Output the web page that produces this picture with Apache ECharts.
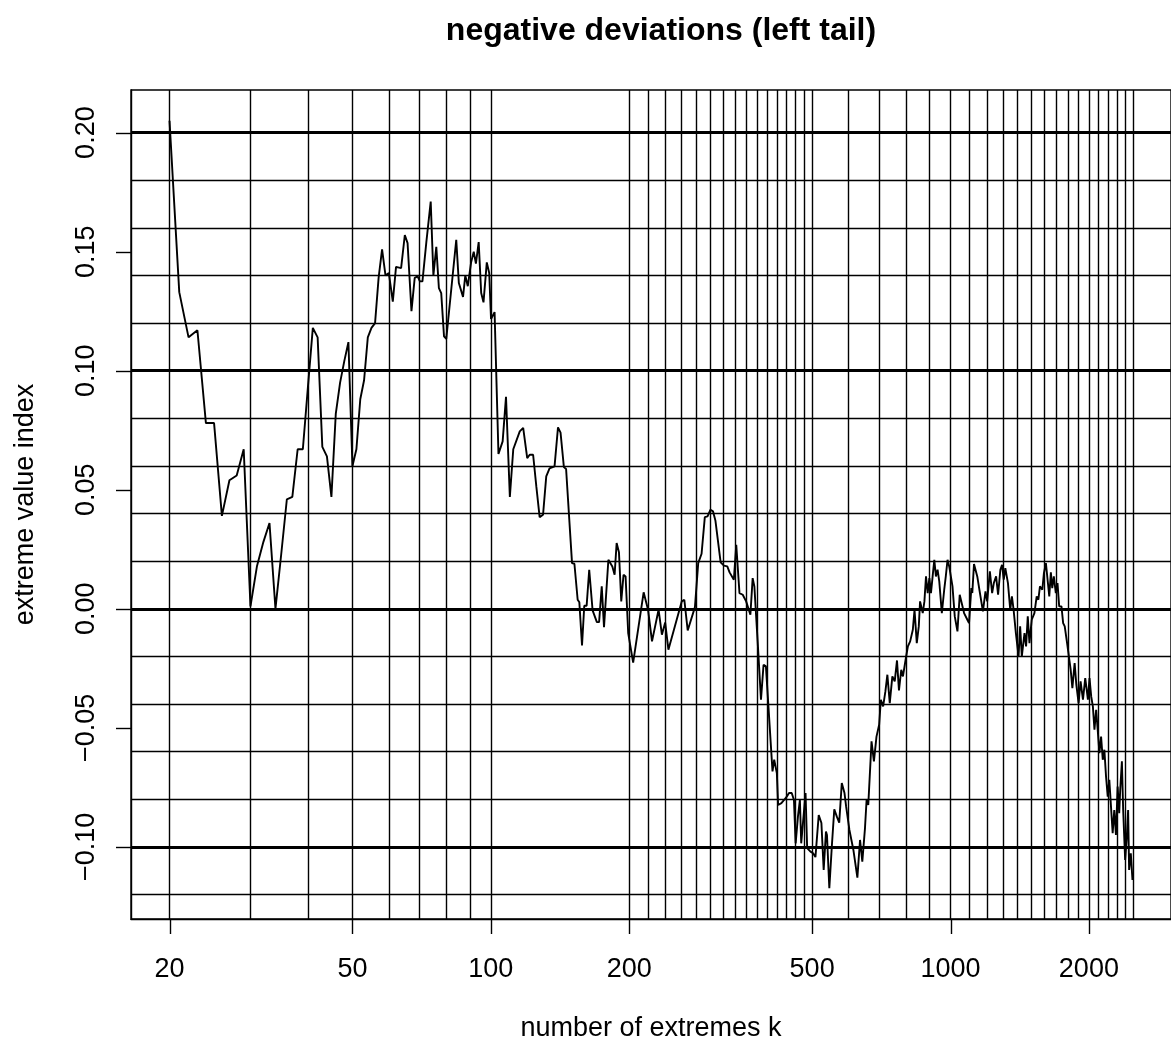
<!DOCTYPE html>
<html>
<head>
<meta charset="utf-8">
<title>negative deviations (left tail)</title>
<script src="https://cdn.jsdelivr.net/npm/echarts@6/dist/echarts.min.js"></script>
<style>
  html, body { margin: 0; padding: 0; background: #fff; }
  #chart { width: 1171px; height: 1048px; }
</style>
</head>
<body>
<div id="chart"></div>
<script>
// number of extremes k used for each estimate
const extremesK = [
  20,21,22,23,24,25,26,27,28,29,30,31,32,33,34,35,36,37,38,39,40,
  41,42,43,44,45,46,47,48,49,50,51,52,53,54,55,56,57,58,59,60,
  61.2,62.2,63.8,65.0,65.9,67.2,68.3,69.3,70.1,71.0,72.4,74.0,75.0,76.1,77.1,78.0,79.1,80.0,
  84.1,85.2,87.0,88.0,89.1,90.6,91.8,92.8,94.1,95.3,96.4,98.0,99.2,100.1,101.9,
  103.9,106.1,107.9,110.0,111.9,115.6,117.6,120.0,121.5,123.6,125.6,127.7,129.9,132.0,134.2,
  137.6,140.0,141.8,144.2,145.8,150.2,152.0,154.5,155.8,157.9,159.7,161.6,163.7,166.5,170.1,
  172.0,174.3,176.3,180.2,183.8,185.9,187.8,190.0,192.2,194.4,196.4,199.0,204.0,215.0,219.8,
  224.2,231.7,235.6,239.5,243.4,251.7,260.2,263.6,268.1,278.0,282.6,287.4,292.1,296.1,300.5,
  304.4,308.0,311.1,316.2,321.5,326.9,330.7,337.8,341.9,347.5,353.2,359.3,367.0,371.2,374.4,
  380.6,387.0,392.0,396.7,410.0,413.5,419.0,421.7,428.7,434.5,440.3,445.4,451.4,456.5,460.4,
  465.7,470.3,473.4,478.1,483.8,487.7,496.0,502.4,508.4,516.8,523.8,529.8,535.9,538.6,545.0,
  552.1,558.7,565.9,572.7,580.1,588.0,592.9,602.7,614.8,627.2,635.6,642.9,651.6,656.8,662.4,
  673.3,681.4,690.2,699.5,705.5,713.6,721.7,728.9,737.7,747.3,756.2,764.9,772.5,781.4,788.0,
  798.6,807.8,817.0,828.0,835.1,844.6,853.1,858.6,870.2,877.5,884.5,892.0,899.6,906.7,914.4,
  922.1,929.5,937.3,945.3,957.5,969.0,976.7,985.2,993.6,1001.5,1010.0,1021.6,1035.4,1047.2,1057.7,
  1070.4,1088.1,1097.3,1109.9,1115.4,1124.9,1143.5,1158.9,1176.3,1191.6,1201.7,1217.9,1231.9,1242.4,1256.6,
  1269.2,1283.7,1294.6,1305.6,1316.0,1333.5,1348.8,1360.2,1371.7,1387.5,1406.2,1417.4,1429.4,1448.7,1460.3,
  1472.6,1485.1,1502.1,1522.4,1539.9,1552.9,1565.3,1584.0,1596.7,1612.6,1626.3,1640.1,1653.2,1664.7,1678.0,
  1694.7,1709.1,1723.6,1743.4,1758.1,1772.1,1793.3,1807.6,1825.7,1841.2,1862.3,1878.1,1899.6,1918.6,1941.6,
  1963.9,1990.4,2006.3,2023.3,2040.4,2056.7,2074.1,2091.7,2108.3,2126.2,2144.2,2161.3,2179.6,2198.0,2215.5,
  2234.3,2253.2,2271.1,2290.4,2309.8,2328.2,2339.8,2359.6,2374.9,2398.5,2418.8,2434.5,2446.6,2467.3,2488.2
];

// estimated extreme value index for each k
const evIndex = [
  0.205,0.133,0.114,0.117,0.078,0.078,0.039,0.054,0.056,0.067,0.001,0.018,0.028,0.036,0.000,0.023,0.046,0.047,0.067,0.067,0.093,
  0.118,0.114,0.068,0.064,0.047,0.082,0.095,0.104,0.112,0.060,0.067,0.088,0.096,0.114,0.118,0.120,0.139,0.151,0.140,0.141,
  0.129,0.1436,0.1431,0.157,0.1536,0.125,0.139,0.1396,0.1375,0.1375,0.154,0.171,0.140,0.152,0.1347,0.1326,0.1144,0.1134,
  0.155,0.1368,0.131,0.140,0.1355,0.1455,0.150,0.145,0.154,0.1326,0.1287,0.1455,0.141,0.1217,0.1246,
  0.065,0.0703,0.089,0.047,0.067,0.0745,0.076,0.0633,0.0647,0.0647,0.0514,0.0385,0.0395,0.0556,0.059,
  0.0598,0.0762,0.074,0.0595,0.0587,0.0192,0.0189,0.0038,0.0027,-0.0154,0.0013,0.0013,0.0164,-0.0007,-0.0056,
  -0.0056,0.0094,-0.0077,0.0206,0.0178,0.0143,0.0276,0.0237,0.0031,0.0143,0.0136,-0.0102,-0.0226,0.0069,-0.0004,
  -0.0137,-0.0004,-0.0109,-0.0058,-0.0172,-0.007,0.0031,0.0038,-0.0091,0.0007,0.0192,0.0231,0.0385,0.0388,0.0416,
  0.0409,0.0371,0.0363,0.0195,0.0181,0.0178,0.0153,0.0122,0.0269,0.0066,0.0059,0.0031,-0.0025,0.0129,0.0094,
  -0.0137,-0.0382,-0.0235,-0.0242,-0.0683,-0.0634,-0.069,-0.0824,-0.0816,-0.0803,-0.0789,-0.0774,-0.0774,-0.0803,-0.0985,
  -0.0873,-0.0803,-0.0985,-0.0978,-0.0774,-0.1005,-0.102,-0.1027,-0.1043,-0.0866,-0.09,-0.1097,-0.0936,-0.095,-0.1174,
  -0.0992,-0.0842,-0.0873,-0.0898,-0.0732,-0.0774,-0.0831,-0.0929,-0.1013,-0.1129,-0.0971,-0.1062,-0.0921,-0.0803,-0.0824,
  -0.0557,-0.0641,-0.0537,-0.0487,-0.0382,-0.041,-0.0347,-0.0277,-0.0396,-0.0284,-0.0305,-0.0217,-0.0343,-0.0256,-0.0284,
  -0.0214,-0.0158,-0.0137,-0.0088,-0.0004,-0.0144,-0.0074,0.0031,-0.0018,0.0031,0.0136,0.0066,0.0129,0.0066,0.0136,
  0.0206,0.0136,0.0164,0.0115,-0.0018,0.008,0.0136,0.0206,0.0178,0.0185,0.0094,-0.0032,-0.0095,0.0059,0.0052,
  -0.0018,-0.0046,-0.006,0.0087,0.0066,0.0188,0.0136,0.0066,-0.0011,0.0073,0.0031,0.0157,0.0066,0.0108,0.0136,
  0.0059,0.0164,0.0185,0.0122,0.0171,0.0108,-0.0004,0.0052,-0.0004,-0.0102,-0.02,-0.0074,-0.02,-0.0102,-0.0158,
  -0.0032,-0.0144,-0.0046,-0.0018,0.0052,0.0038,0.0094,0.008,0.015,0.0192,0.0122,0.0052,0.0153,0.0087,0.0136,
  0.0066,0.0108,0.001,0.001,-0.006,-0.0074,-0.0144,-0.0144,-0.0256,-0.0333,-0.0228,-0.0319,-0.0396,-0.0305,-0.0382,
  -0.0291,-0.0382,-0.0291,-0.0368,-0.041,-0.0508,-0.0424,-0.0515,-0.0606,-0.0537,-0.0634,-0.0592,-0.0705,-0.0789,-0.0718,
  -0.0831,-0.0943,-0.0845,-0.095,-0.0747,-0.0859,-0.0761,-0.0641,-0.0845,-0.1055,-0.0957,-0.0845,-0.1097,-0.1027,-0.1139
];

// axis ticks and labels
const xTickValues = [20, 50, 100, 200, 500, 1000, 2000];
const yTickValues = [-0.10, -0.05, 0.00, 0.05, 0.10, 0.15, 0.20];

// reference grid
const gridK = [
  20,30,40,50,60,70,80,90,100,
  200,220,240,260,280,300,320,340,360,380,400,420,440,460,480,500,
  600,700,800,900,1000,1100,1200,1300,1400,1500,1600,1700,1800,1900,2000,
  2100,2200,2300,2400,2500
];
const gridThinY = [-0.12,-0.08,-0.06,-0.04,-0.02,0.02,0.04,0.06,0.08,0.12,0.14,0.16,0.18];
const gridThickY = [-0.10, 0.00, 0.10, 0.20];

const FONT = 'Liberation Sans, Arial, Helvetica, sans-serif';
const TICK_LEN = 15;

// axis limits padded by 4% of the data range (log scale for k)
const lkMin = Math.log10(Math.min(...extremesK));
const lkMax = Math.log10(Math.max(...extremesK));
const lkPad = 0.04 * (lkMax - lkMin);
const xMin = Math.pow(10, lkMin - lkPad);
const xMax = Math.pow(10, lkMax + lkPad);
const vMin = Math.min(...evIndex), vMax = Math.max(...evIndex);
const vPad = 0.04 * (vMax - vMin);
const yMin = vMin - vPad, yMax = vMax + vPad;

const seriesData = extremesK.map((k, i) => [k, evIndex[i]]);

const thin = { color: '#000', width: 1.4, type: 'solid' };
const thick = { color: '#000', width: 2.8, type: 'solid' };
const markData = []
  .concat(gridK.map(k => ({ xAxis: k, lineStyle: thin })))
  .concat(gridThinY.map(v => ({ yAxis: v, lineStyle: thin })))
  .concat(gridThickY.map(v => ({ yAxis: v, lineStyle: thick })));

const fmtY = v => (v < 0 ? '\u2212' : '') + Math.abs(v).toFixed(2);

const axisStroke = { color: '#000', width: 1.4 };

const chart = echarts.init(document.getElementById('chart'), null, { renderer: 'canvas' });
chart.setOption({
  animation: false,
  backgroundColor: '#fff',
  title: {
    text: 'negative deviations (left tail)',
    left: 656,
    top: 10,
    textAlign: 'center',
    textStyle: { fontFamily: FONT, fontSize: 32, fontWeight: 'bold', color: '#000' }
  },
  grid: {
    left: 131, top: 90, right: -10, bottom: 129,
    show: true, borderColor: '#000', borderWidth: 1.4, backgroundColor: 'transparent'
  },
  xAxis: {
    type: 'log', logBase: 10, min: xMin, max: xMax,
    name: 'number of extremes k', nameLocation: 'middle', nameGap: 96,
    nameTextStyle: { fontFamily: FONT, fontSize: 27, color: '#000' },
    axisLine: { show: true, onZero: false, lineStyle: axisStroke },
    axisTick: { show: false },
    axisLabel: {
      show: true, margin: 37, customValues: xTickValues,
      fontFamily: FONT, fontSize: 27, color: '#000',
      formatter: v => String(Math.round(v))
    },
    splitLine: { show: false }, minorTick: { show: false }, minorSplitLine: { show: false }
  },
  yAxis: {
    type: 'value', min: yMin, max: yMax,
    name: 'extreme value index', nameLocation: 'middle', nameGap: 92, nameRotate: 90,
    nameTextStyle: { fontFamily: FONT, fontSize: 27, color: '#000' },
    axisLine: { show: true, onZero: false, lineStyle: axisStroke },
    axisTick: { show: false },
    axisLabel: {
      show: true, margin: 31, rotate: 90, customValues: yTickValues,
      fontFamily: FONT, fontSize: 27, color: '#000',
      formatter: fmtY
    },
    splitLine: { show: false }
  },
  series: [{
    type: 'line',
    data: seriesData,
    showSymbol: false,
    symbol: 'none',
    clip: true,
    lineStyle: { color: '#000', width: 1.9 },
    emphasis: { disabled: true },
    silent: true,
    markLine: {
      silent: true,
      symbol: ['none', 'none'],
      label: { show: false },
      emphasis: { disabled: true },
      animation: false,
      data: markData
    }
  }]
});

// outward tick marks at the labelled values, placed with the chart's own axis scales
const xPix = v => chart.convertToPixel({ xAxisIndex: 0 }, v);
const yPix = v => chart.convertToPixel({ yAxisIndex: 0 }, v);
const boxLeft = xPix(xMin);
const boxBottom = yPix(yMin);
const tickMarks = []
  .concat(xTickValues.map(v => {
    const x = Math.round(xPix(v)) + 0.5;
    return { type: 'line', silent: true, shape: { x1: x, y1: boxBottom, x2: x, y2: boxBottom + TICK_LEN }, style: { stroke: '#000', lineWidth: 1.4 } };
  }))
  .concat(yTickValues.map(v => {
    const y = Math.round(yPix(v)) + 0.5;
    return { type: 'line', silent: true, shape: { x1: boxLeft - TICK_LEN, y1: y, x2: boxLeft, y2: y }, style: { stroke: '#000', lineWidth: 1.4 } };
  }));
chart.setOption({ graphic: tickMarks });
</script>
</body>
</html>
